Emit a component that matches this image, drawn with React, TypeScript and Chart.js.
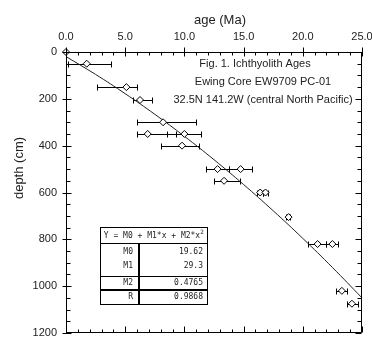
import React, { useEffect, useRef } from 'react';
import { Chart, registerables } from 'chart.js';

Chart.register(...registerables);

// Ichthyolith samples: age (Ma), depth (cm), horizontal error range (Ma)
const pointAges = [0, 1.75, 5.1, 6.25, 8.2, 6.9, 10.0, 9.8, 12.8, 14.75, 13.35, 16.4, 16.85, 18.8, 21.25, 22.5, 23.3, 24.15];
const pointDepths = [0, 50, 150, 205, 300, 350, 350, 400, 500, 500, 550, 600, 600, 705, 820, 820, 1020, 1075];
const errLow: (number | null)[] = [null, 0.2, 2.6, 5.7, 6.0, 6.0, 8.5, 8.05, 11.8, 13.8, 12.5, 16.15, 16.6, 18.55, 20.45, 22.0, 22.8, 23.7];
const errHigh: (number | null)[] = [null, 3.8, 6.0, 7.3, 11.0, 9.3, 11.4, 11.2, 13.8, 15.7, 14.7, 16.6, 17.1, 18.95, 21.95, 22.95, 23.75, 24.65];

// Fitted curve
const fitAges = [0, 2.5, 5, 7.5, 10, 12.5, 15, 17.5, 20, 22.5, 25];
const fitDepths = [19.6, 95.8, 178, 266, 360, 460, 566, 678, 796, 920, 1050];

const xMin = 0, xMax = 25, xStep = 5, xMinorStep = 1;
const yMin = 0, yMax = 1200, yStep = 200, yMinorStep = 50;

const titleLines = ['Fig. 1. Ichthyolith Ages', 'Ewing Core EW9709 PC-01', '32.5N 141.2W (central North Pacific)'];
const tableHeader = 'Y = M0 + M1*x + M2*x';
const tableLabels = ['M0', 'M1', 'M2', 'R'];
const tableValues = ['19.62', '29.3', '0.4765', '0.9868'];

const FONT = '"Liberation Sans", Arial, sans-serif';
const MONO = '"DejaVu Sans Mono", monospace';

const decor = {
  id: 'decor',
  beforeDatasetsDraw(chart: any) {
    const { ctx, scales } = chart;
    const x = scales.x, y = scales.y;
    ctx.save();
    ctx.strokeStyle = '#000';
    ctx.lineWidth = 1;
    pointAges.forEach((_, i) => {
      const lo = errLow[i], hi = errHigh[i];
      if (lo == null || hi == null) return;
      const yp = Math.round(y.getPixelForValue(pointDepths[i])) + 0.5;
      const x1 = Math.round(x.getPixelForValue(lo)) + 0.5;
      const x2 = Math.round(x.getPixelForValue(hi)) + 0.5;
      ctx.beginPath();
      ctx.moveTo(x1, yp); ctx.lineTo(x2, yp);
      ctx.moveTo(x1, yp - 3); ctx.lineTo(x1, yp + 3);
      ctx.moveTo(x2, yp - 3); ctx.lineTo(x2, yp + 3);
      ctx.stroke();
    });
    ctx.restore();
  },
  afterDraw(chart: any) {
    const { ctx, chartArea: a, scales } = chart;
    const x = scales.x, y = scales.y;
    ctx.save();
    ctx.strokeStyle = '#000';
    ctx.lineWidth = 1;
    const L = Math.round(a.left) + 0.5, R = Math.round(a.right) - 0.5;
    const T = Math.round(a.top) + 0.5, B = Math.round(a.bottom) - 0.5;
    ctx.beginPath();
    ctx.moveTo(L, T); ctx.lineTo(R, T); ctx.lineTo(R, B); ctx.lineTo(L, B); ctx.closePath();
    ctx.stroke();
    // x ticks (top inward/outward, bottom inward)
    ctx.beginPath();
    for (let v = xMin; v <= xMax + 1e-9; v += xMinorStep) {
      const px = Math.round(x.getPixelForValue(v)) + 0.5;
      const major = Math.abs(v % xStep) < 1e-9;
      if (major) {
        ctx.moveTo(px, T - 5); ctx.lineTo(px, T + 4);
        ctx.moveTo(px, B); ctx.lineTo(px, B - 6);
      } else {
        ctx.moveTo(px, T); ctx.lineTo(px, T + 3);
        ctx.moveTo(px, B); ctx.lineTo(px, B - 3);
      }
    }
    for (let v = yMin; v <= yMax + 1e-9; v += yMinorStep) {
      const py = Math.round(y.getPixelForValue(v)) + 0.5;
      const major = Math.abs(v % yStep) < 1e-9;
      if (major) {
        ctx.moveTo(L - 4, py); ctx.lineTo(L + 5, py);
        ctx.moveTo(R, py); ctx.lineTo(R - 6, py);
      } else {
        ctx.moveTo(L, py); ctx.lineTo(L + 4, py);
        ctx.moveTo(R, py); ctx.lineTo(R - 4, py);
      }
    }
    ctx.stroke();

    // axis titles
    ctx.fillStyle = '#222';
    ctx.font = `13px ${FONT}`;
    ctx.textAlign = 'center';
    ctx.textBaseline = 'middle';
    ctx.fillText('age (Ma)', 220, 20);
    ctx.save();
    ctx.translate(19, 168);
    ctx.rotate(-Math.PI / 2);
    ctx.fillText('depth (cm)', 0, 0);
    ctx.restore();

    // figure caption
    ctx.font = `11px ${FONT}`;
    ctx.fillText(titleLines[0], 255, 64);
    ctx.fillText(titleLines[1], 263, 82);
    ctx.fillText(titleLines[2], 263, 100);

    // equation table
    const tl = 100, tr = 207, tt = 227, tb = 304, col = 139;
    ctx.fillStyle = '#fff';
    ctx.fillRect(tl, tt, tr - tl, tb - tt);
    ctx.strokeStyle = '#000';
    ctx.lineWidth = 1;
    ctx.strokeRect(tl + 0.5, tt + 0.5, tr - tl, tb - tt);
    ctx.beginPath();
    ctx.moveTo(tl, 243.5); ctx.lineTo(tr, 243.5);
    ctx.moveTo(tl, 276.5); ctx.lineTo(tr, 276.5);
    ctx.stroke();
    ctx.lineWidth = 2;
    ctx.beginPath();
    ctx.moveTo(tl, 290); ctx.lineTo(tr, 290);
    ctx.moveTo(col, 243); ctx.lineTo(col, tb);
    ctx.stroke();
    ctx.fillStyle = '#222';
    ctx.font = `8px ${MONO}`;
    ctx.textAlign = 'center';
    ctx.fillText(tableHeader, 152, 236);
    const hw = ctx.measureText(tableHeader).width;
    ctx.font = `6px ${MONO}`;
    ctx.fillText('2', 152 + hw / 2 + 2, 232);
    ctx.font = `8px ${MONO}`;
    const rowsY = [252, 266, 283, 297];
    tableLabels.forEach((lab, i) => {
      ctx.textAlign = 'right';
      ctx.fillText(lab, 133, rowsY[i]);
      ctx.fillText(tableValues[i], 203, rowsY[i]);
    });
    ctx.restore();
  },
};

export default function App() {
  const ref = useRef<HTMLCanvasElement>(null);
  useEffect(() => {
    document.body.style.margin = '0';
    const canvas = ref.current;
    if (!canvas) return;
    const chart = new Chart(canvas, {
      type: 'scatter',
      data: {
        datasets: [
          {
            type: 'line',
            label: 'fit',
            data: fitAges.map((a, i) => ({ x: a, y: fitDepths[i] })),
            borderColor: '#222',
            borderWidth: 1,
            pointRadius: 0,
            tension: 0.4,
            fill: false,
            order: 2,
            clip: false,
          } as any,
          {
            label: 'samples',
            data: pointAges.map((a, i) => ({ x: a, y: pointDepths[i] })),
            pointStyle: 'rectRot',
            pointRadius: 3.5,
            pointBackgroundColor: '#fff',
            pointBorderColor: '#000',
            pointBorderWidth: 1,
            showLine: false,
            order: 1,
            clip: false,
          } as any,
        ],
      },
      options: {
        responsive: false,
        devicePixelRatio: 1,
        animation: false,
        events: [],
        layout: { padding: { left: 0, top: 0, right: 10, bottom: 4 } },
        plugins: { legend: { display: false }, tooltip: { enabled: false } },
        scales: {
          x: {
            type: 'linear',
            position: 'top',
            min: xMin,
            max: xMax,
            grid: { display: false, drawTicks: false },
            border: { display: true, color: '#000', width: 1 },
            ticks: {
              stepSize: xStep,
              padding: 8,
              color: '#222',
              font: { family: FONT, size: 11 },
              maxRotation: 0,
              callback: (v: any) => Number(v).toFixed(1),
            },
            afterFit: (s: any) => {
              s.height = 52;
              s.paddingLeft = 0;
              s.paddingRight = 0;
            },
          },
          y: {
            type: 'linear',
            reverse: true,
            min: yMin,
            max: yMax,
            grid: { display: false, drawTicks: false },
            border: { display: true, color: '#000', width: 1 },
            ticks: {
              stepSize: yStep,
              padding: 9,
              color: '#222',
              font: { family: FONT, size: 11 },
              callback: (v: any) => String(v),
            },
            afterFit: (s: any) => {
              s.width = 66;
              s.paddingTop = 0;
              s.paddingBottom = 0;
            },
          },
        },
      },
      plugins: [decor],
    });
    return () => chart.destroy();
  }, []);
  return <canvas ref={ref} width={372} height={338} style={{ display: 'block' }} />;
}
